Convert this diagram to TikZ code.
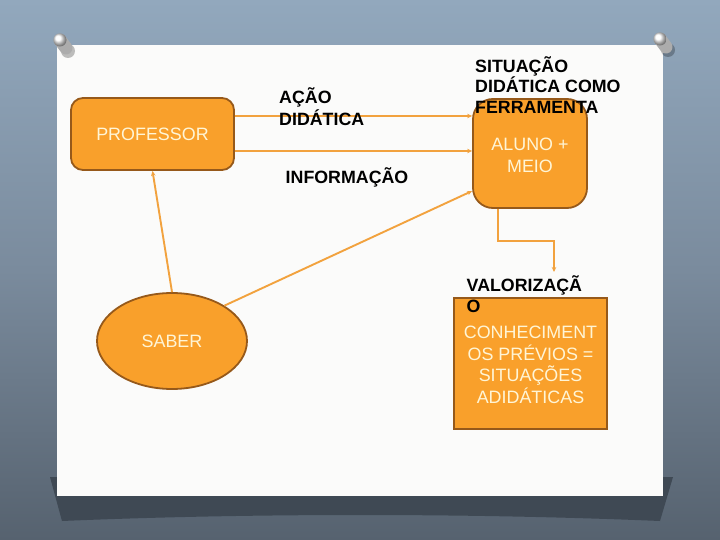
\documentclass[tikz,border=0pt]{standalone}
\usepackage{fontspec}
\setmainfont{Liberation Sans}
\usetikzlibrary{shapes.geometric,arrows.meta,calc}
\definecolor{boxfill}{HTML}{F9A02B}
\definecolor{boxline}{HTML}{96591A}
\definecolor{conncol}{HTML}{F2A23E}
\definecolor{boxtext}{HTML}{FFF5D6}
\definecolor{bgtop}{HTML}{92A8BD}
\definecolor{bgmid}{HTML}{7A8B9D}
\definecolor{bgbot}{HTML}{56626F}
\definecolor{shadowcol}{HTML}{3F4954}
\definecolor{paper}{HTML}{FBFBFA}
\newcommand{\myTopStrut}{\rule{0pt}{18pt}}
\begin{document}
\begin{tikzpicture}[x=1pt,y=-1pt,
  boxstyle/.style={fill=boxfill, draw=boxline, line width=1.8pt, text=boxtext,
    font=\fontsize{17.9}{21.5}\selectfont, align=center, inner sep=0pt},
  lbl/.style={text=black, inner sep=0pt, align=left},
  conn/.style={draw=conncol, line width=1.9pt, -{Stealth[length=5pt,width=4.5pt]}},
]
\useasboundingbox (0,0) rectangle (720,540);
% background
\shade[top color=bgtop, bottom color=bgbot, middle color=bgmid] (0,0) rectangle (720,540);
% paper shadow and paper
\fill[shadowcol] (50,477) -- (62,521) .. controls (250,513) and (470,513) .. (660,521) -- (673,477) -- cycle;
\fill[paper] (57,45) rectangle (663,496);
% pins
\foreach \px/\py in {60/40, 660/39} {
  \fill[black, opacity=0.25] (\px+8,\py+11) circle (7);
  \draw[line width=13pt, line cap=round, color=gray!65] (\px,\py) -- (\px+6,\py+8);
  \shade[ball color=white] (\px,\py) circle (6.5);
}
% boxes
\node[boxstyle, rounded corners=12pt, minimum width=163pt, minimum height=72pt] (prof) at (152.5,134) {PROFESSOR};
\node[boxstyle, rounded corners=20pt, minimum width=114pt, minimum height=109pt] (alun) at (530,153.5) {\rule{0pt}{16.5pt}ALUNO +\\MEIO};
\node[boxstyle, ellipse, minimum width=150pt, minimum height=96pt] (saber) at (172,341) {SABER};
\node[boxstyle, rectangle, minimum width=153pt, minimum height=131pt] (valbox) at (530.5,363.5) {};
% connectors
\path ([yshift=18pt]prof.east) coordinate (p1);
\path ([yshift=-17pt]prof.east) coordinate (p2);
\draw[conn] (p1) -- (p1 -| alun.west);
\draw[conn] (p2) -- (p2 -| alun.west);
\draw[conn] (saber.34) -- ([yshift=-37.5pt]alun.west);
\draw[conn] (saber.north) -- (prof.south);
\coordinate (valtip) at (554,272);
\draw[conn] ([xshift=-32pt]alun.south) -- ++(0,32) -| (valtip);
% labels
\node[lbl, anchor=north west, font=\bfseries\fontsize{17.8}{22.5}\selectfont] (acao) at (279,85) {\myTopStrut AÇÃO\\DIDÁTICA};
\node[lbl, anchor=base west, font=\bfseries\fontsize{17.8}{21}\selectfont] (info) at (285.5,183.3) {INFORMAÇÃO};
\node[lbl, anchor=north west, font=\bfseries\fontsize{17.8}{20.5}\selectfont] (situ) at (475,54) {\myTopStrut SITUAÇÃO\\DIDÁTICA COMO\\FERRAMENTA};
\node[lbl, anchor=north west, font=\bfseries\fontsize{17.8}{21}\selectfont] (valt) at (466.5,273) {\myTopStrut VALORIZAÇÃ\\O};
\node[inner sep=0pt, align=center, anchor=north, text=boxtext, font=\fontsize{17.9}{21.8}\selectfont] (valb) at (530.5,320) {\myTopStrut CONHECIMENT\\OS PRÉVIOS =\\SITUAÇÕES\\ADIDÁTICAS};
\end{tikzpicture}
\end{document}
